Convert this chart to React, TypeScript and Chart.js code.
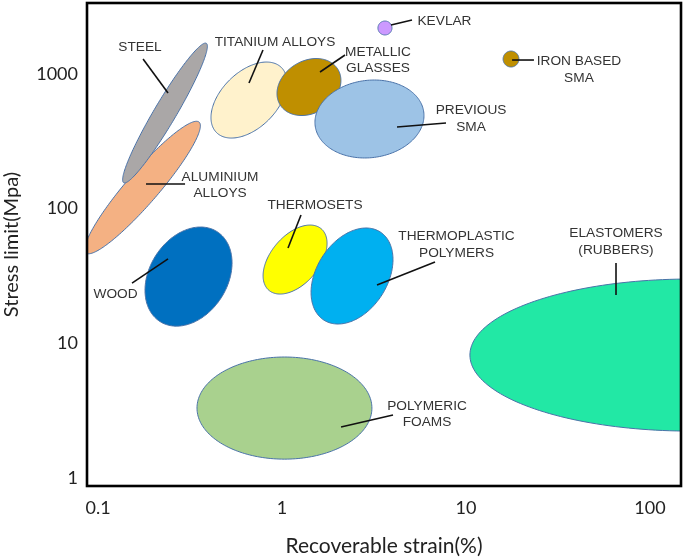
import React, { useEffect, useRef } from 'react';
import { Chart, registerables } from 'chart.js';

Chart.register(...registerables);

// ---- axis content ----
const xTickValues = [0.1, 1, 10, 100];
const yTickValues = [1, 10, 100, 1000];
const xTitle = 'Recoverable strain(%)';
const yTitle = 'Stress limit(Mpa)';
const xRange = [0.0871, 147.4];
const yRange = [0.872, 3361];

// ---- material regions (drawn in this order) ----
const materials = [
  'ALUMINIUM ALLOYS',
  'STEEL',
  'TITANIUM ALLOYS',
  'METALLIC GLASSES',
  'PREVIOUS SMA',
  'KEVLAR',
  'IRON BASED SMA',
  'WOOD',
  'THERMOSETS',
  'THERMOPLASTIC POLYMERS',
  'ELASTOMERS (RUBBERS)',
  'POLYMERIC FOAMS',
];
// recoverable strain range (%)
const strainLow = [0.0847, 0.136, 0.411, 0.939, 1.51, 3.32, 15.9, 0.18, 0.789, 1.438, 10.5, 0.345];
const strainHigh = [0.36, 0.393, 1.064, 2.09, 5.91, 3.96, 19.4, 0.535, 1.757, 4.01, 2590, 3.08];
// stress limit range (MPa)
const stressLow = [46.2, 155, 334, 491, 237.6, 1945, 1125, 13.4, 23.2, 13.9, 2.23, 1.38];
const stressHigh = [445, 1694, 1225, 1301, 901, 2471, 1479, 73.0, 75.5, 71.8, 30.0, 7.91];
// how strongly stress grows with strain inside each region (0 = none, 1 = a line)
const correlation = [0.932, 0.954, 0.461, 0.229, 0.087, 0, 0, 0.276, 0.469, 0.342, 0, 0];

// ---- styles ----
const fillColors = [
  '#F4B183', '#AAA7A7', '#FFF2CC', '#BF8F00', '#9DC3E6', '#CC99FF',
  '#BF8F00', '#0070C0', '#FFFF00', '#00B0F0', '#22E8A5', '#A9D18E',
];
const outlineColor = '#4A72A8';

// ---- annotation labels (data coordinates) ----
type Label = { lines: string[]; x: number; y: number; leader: [number, number, number, number] };
const labels: Label[] = [
  { lines: ['STEEL'], x: 0.169, y: 1584, leader: [0.1757, 1290, 0.2401, 721] },
  { lines: ['TITANIUM ALLOYS'], x: 0.916, y: 1725, leader: [0.788, 1504, 0.6615, 856] },
  { lines: ['METALLIC', 'GLASSES'], x: 3.325, y: 1268, leader: [2.2, 1381, 1.609, 1033] },
  { lines: ['KEVLAR'], x: 7.64, y: 2471, leader: [3.912, 2307, 5.087, 2513] },
  { lines: ['IRON BASED', 'SMA'], x: 41.1, y: 1078, leader: [17.8, 1268, 23.4, 1268] },
  { lines: ['PREVIOUS', 'SMA'], x: 10.65, y: 463, leader: [4.217, 403.6, 7.787, 432] },
  { lines: ['ALUMINIUM', 'ALLOYS'], x: 0.4603, y: 149.7, leader: [0.1823, 152.3, 0.2971, 152.3] },
  { lines: ['WOOD'], x: 0.1245, y: 23.2, leader: [0.153, 28.0, 0.2401, 42.3] },
  { lines: ['THERMOSETS'], x: 1.511, y: 106.3, leader: [1.268, 89.6, 1.078, 51.0] },
  { lines: ['THERMOPLASTIC', 'POLYMERS'], x: 8.88, y: 54.1, leader: [3.283, 27.1, 6.784, 40.1] },
  { lines: ['ELASTOMERS', '(RUBBERS)'], x: 65.35, y: 57.0, leader: [65.35, 39.5, 65.35, 22.8] },
  { lines: ['POLYMERIC', 'FOAMS'], x: 6.138, y: 2.987, leader: [2.093, 2.391, 4.011, 2.936] },
];

const regionsPlugin = {
  id: 'materialRegions',
  beforeDatasetsDraw(chart: any) {
    const { ctx, chartArea, scales } = chart;
    const xs = scales.x;
    const ys = scales.y;
    ctx.save();
    ctx.beginPath();
    ctx.rect(chartArea.left, chartArea.top, chartArea.right - chartArea.left, chartArea.bottom - chartArea.top);
    ctx.clip();
    materials.forEach((_, i) => {
      const lx0 = Math.log10(strainLow[i]);
      const lx1 = Math.log10(strainHigh[i]);
      const ly0 = Math.log10(stressLow[i]);
      const ly1 = Math.log10(stressHigh[i]);
      const cx = (lx0 + lx1) / 2;
      const hx = (lx1 - lx0) / 2;
      const cy = (ly0 + ly1) / 2;
      const hy = (ly1 - ly0) / 2;
      const d = Math.acos(correlation[i]);
      ctx.beginPath();
      const n = 200;
      for (let k = 0; k <= n; k++) {
        const t = (k / n) * Math.PI * 2;
        const px = xs.getPixelForValue(Math.pow(10, cx + hx * Math.cos(t)));
        const py = ys.getPixelForValue(Math.pow(10, cy + hy * Math.cos(t - d)));
        if (k === 0) ctx.moveTo(px, py);
        else ctx.lineTo(px, py);
      }
      ctx.closePath();
      ctx.fillStyle = fillColors[i];
      ctx.fill();
      ctx.lineWidth = 1;
      ctx.strokeStyle = outlineColor;
      ctx.stroke();
    });
    ctx.restore();
  },
  afterDatasetsDraw(chart: any) {
    const { ctx, chartArea, scales } = chart;
    const xs = scales.x;
    const ys = scales.y;
    ctx.save();
    labels.forEach((l) => {
      const [x1, y1, x2, y2] = l.leader;
      ctx.beginPath();
      ctx.moveTo(xs.getPixelForValue(x1), ys.getPixelForValue(y1));
      ctx.lineTo(xs.getPixelForValue(x2), ys.getPixelForValue(y2));
      ctx.lineWidth = 1.6;
      ctx.strokeStyle = '#111';
      ctx.stroke();
    });
    ctx.font = '13.7px "Liberation Sans", Arial, sans-serif';
    ctx.fillStyle = '#333';
    ctx.textAlign = 'center';
    ctx.textBaseline = 'middle';
    const lh = 16.5;
    labels.forEach((l) => {
      const px = xs.getPixelForValue(l.x);
      const py = ys.getPixelForValue(l.y);
      const start = py - ((l.lines.length - 1) * lh) / 2;
      l.lines.forEach((line, j) => ctx.fillText(line, px, start + j * lh));
    });
    // frame
    ctx.lineWidth = 2.6;
    ctx.strokeStyle = '#000';
    ctx.strokeRect(chartArea.left, chartArea.top, chartArea.right - chartArea.left, chartArea.bottom - chartArea.top);
    ctx.restore();
  },
};

export default function App() {
  const ref = useRef<HTMLCanvasElement | null>(null);
  useEffect(() => {
    if (!ref.current) return;
    const chart = new Chart(ref.current, {
      type: 'scatter',
      data: {
        datasets: [
          {
            label: 'Materials',
            data: materials.map((_, i) => ({
              x: Math.sqrt(strainLow[i] * strainHigh[i]),
              y: Math.sqrt(stressLow[i] * stressHigh[i]),
            })),
            pointRadius: 0,
            pointHoverRadius: 0,
          },
        ],
      },
      options: {
        animation: false,
        responsive: true,
        maintainAspectRatio: false,
        layout: { padding: { top: 3, right: 4, left: 0, bottom: 0 } },
        plugins: { legend: { display: false }, tooltip: { enabled: false } },
        scales: {
          x: {
            type: 'logarithmic',
            min: xRange[0],
            max: xRange[1],
            afterBuildTicks: (s: any) => {
              s.ticks = xTickValues.map((v) => ({ value: v }));
            },
            afterFit: (s: any) => {
              s.height = 73;
              s.paddingLeft = 0;
              s.paddingRight = 0;
            },
            grid: { display: false, drawTicks: false },
            border: { display: false },
            ticks: {
              autoSkip: false,
              maxRotation: 0,
              padding: 11,
              color: '#222',
              font: { family: 'Lato', size: 18 },
              callback: (v: any) => String(v),
            },
            title: {
              display: true,
              text: xTitle,
              color: '#222',
              font: { family: 'Lato', size: 21 },
              padding: { top: 0, bottom: 0 },
            },
          },
          y: {
            type: 'logarithmic',
            min: yRange[0],
            max: yRange[1],
            afterBuildTicks: (s: any) => {
              s.ticks = yTickValues.map((v) => ({ value: v }));
            },
            afterFit: (s: any) => {
              s.width = 87;
              s.paddingTop = 0;
              s.paddingBottom = 0;
            },
            grid: { display: false, drawTicks: false },
            border: { display: false },
            ticks: {
              autoSkip: false,
              padding: 9,
              color: '#222',
              font: { family: 'Lato', size: 18 },
              callback: (v: any) => String(v),
            },
            title: {
              display: true,
              text: yTitle,
              color: '#222',
              font: { family: 'Lato', size: 20 },
              padding: { top: 0, bottom: 0 },
            },
          },
        },
      },
      plugins: [regionsPlugin],
    });
    return () => chart.destroy();
  }, []);
  return (
    <div style={{ position: 'absolute', left: 0, top: 0, width: 685, height: 559, background: '#fff' }}>
      <canvas ref={ref} />
    </div>
  );
}
